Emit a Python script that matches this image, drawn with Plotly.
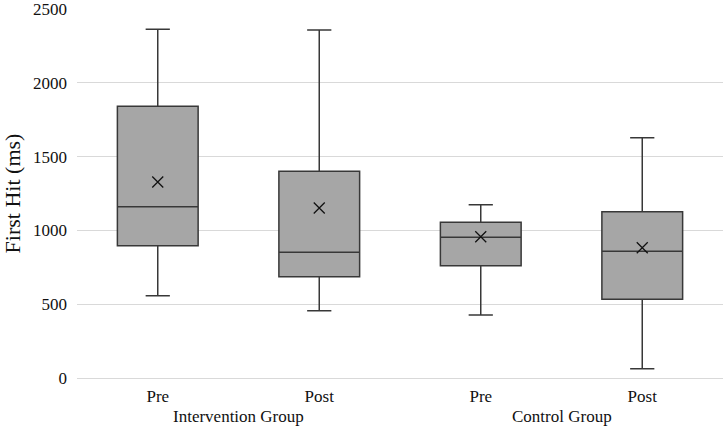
import plotly.graph_objects as go

groups = ["Intervention Group", "Intervention Group", "Control Group", "Control Group"]
phases = ["Pre", "Post", "Pre", "Post"]
lower = [558, 456, 427, 63]
q1 = [896, 686, 761, 533]
median = [1161, 852, 953, 858]
q3 = [1841, 1400, 1055, 1127]
upper = [2362, 2358, 1174, 1628]
mean = [1328, 1152, 957, 883]
y_ticks = [0, 500, 1000, 1500, 2000, 2500]

font_family = "Liberation Serif"
pos = list(range(len(phases)))

fig = go.Figure()
fig.add_trace(go.Box(
    x=pos,
    q1=q1, median=median, q3=q3,
    lowerfence=lower, upperfence=upper,
    fillcolor="#a6a6a6",
    line=dict(color="#383838", width=1.5),
    width=0.5,
    whiskerwidth=0.3,
    boxpoints=False,
    showlegend=False,
    hoverinfo="skip",
))
fig.add_trace(go.Scatter(
    x=pos, y=mean,
    mode="markers",
    marker=dict(symbol="x-thin-open", size=11, line=dict(color="#111111", width=1.3), color="#111111"),
    showlegend=False,
    hoverinfo="skip",
))

# group labels centred under their categories
seen = []
for g in groups:
    if g not in seen:
        seen.append(g)
for g in seen:
    idx = [i for i, gg in enumerate(groups) if gg == g]
    fig.add_annotation(
        x=sum(idx) / len(idx), y=0, xref="x", yref="paper",
        yshift=-50, text=g, showarrow=False,
        font=dict(size=17, family=font_family, color="#111111"),
    )

fig.update_layout(
    width=725, height=429,
    margin=dict(l=77, r=2, t=9, b=51),
    paper_bgcolor="white",
    plot_bgcolor="white",
    font=dict(family=font_family, color="#111111", size=17),
)
fig.update_xaxes(
    range=[-0.5, len(phases) - 0.5],
    tickvals=pos,
    ticktext=phases,
    automargin=False,
    showline=False,
    showgrid=False,
    zeroline=False,
    ticks="",
    ticklabelstandoff=6,
    tickfont=dict(size=17, family=font_family, color="#111111"),
)
fig.update_yaxes(
    range=[0, 2500],
    tickvals=y_ticks,
    automargin=False,
    showgrid=True,
    gridcolor="#d9d9d9",
    gridwidth=1,
    zeroline=True,
    zerolinecolor="#d9d9d9",
    zerolinewidth=1,
    showline=False,
    ticks="",
    ticklabelstandoff=9,
    ticklabeloverflow="allow",
    tickfont=dict(size=17, family=font_family, color="#111111"),
    title=dict(text="First Hit (ms)", font=dict(size=22, family=font_family, color="#111111"), standoff=18),
)

fig.write_html(
    "out.html",
    config={"displayModeBar": False},
    post_script="document.body.style.margin='0';document.body.style.padding='0';",
)
